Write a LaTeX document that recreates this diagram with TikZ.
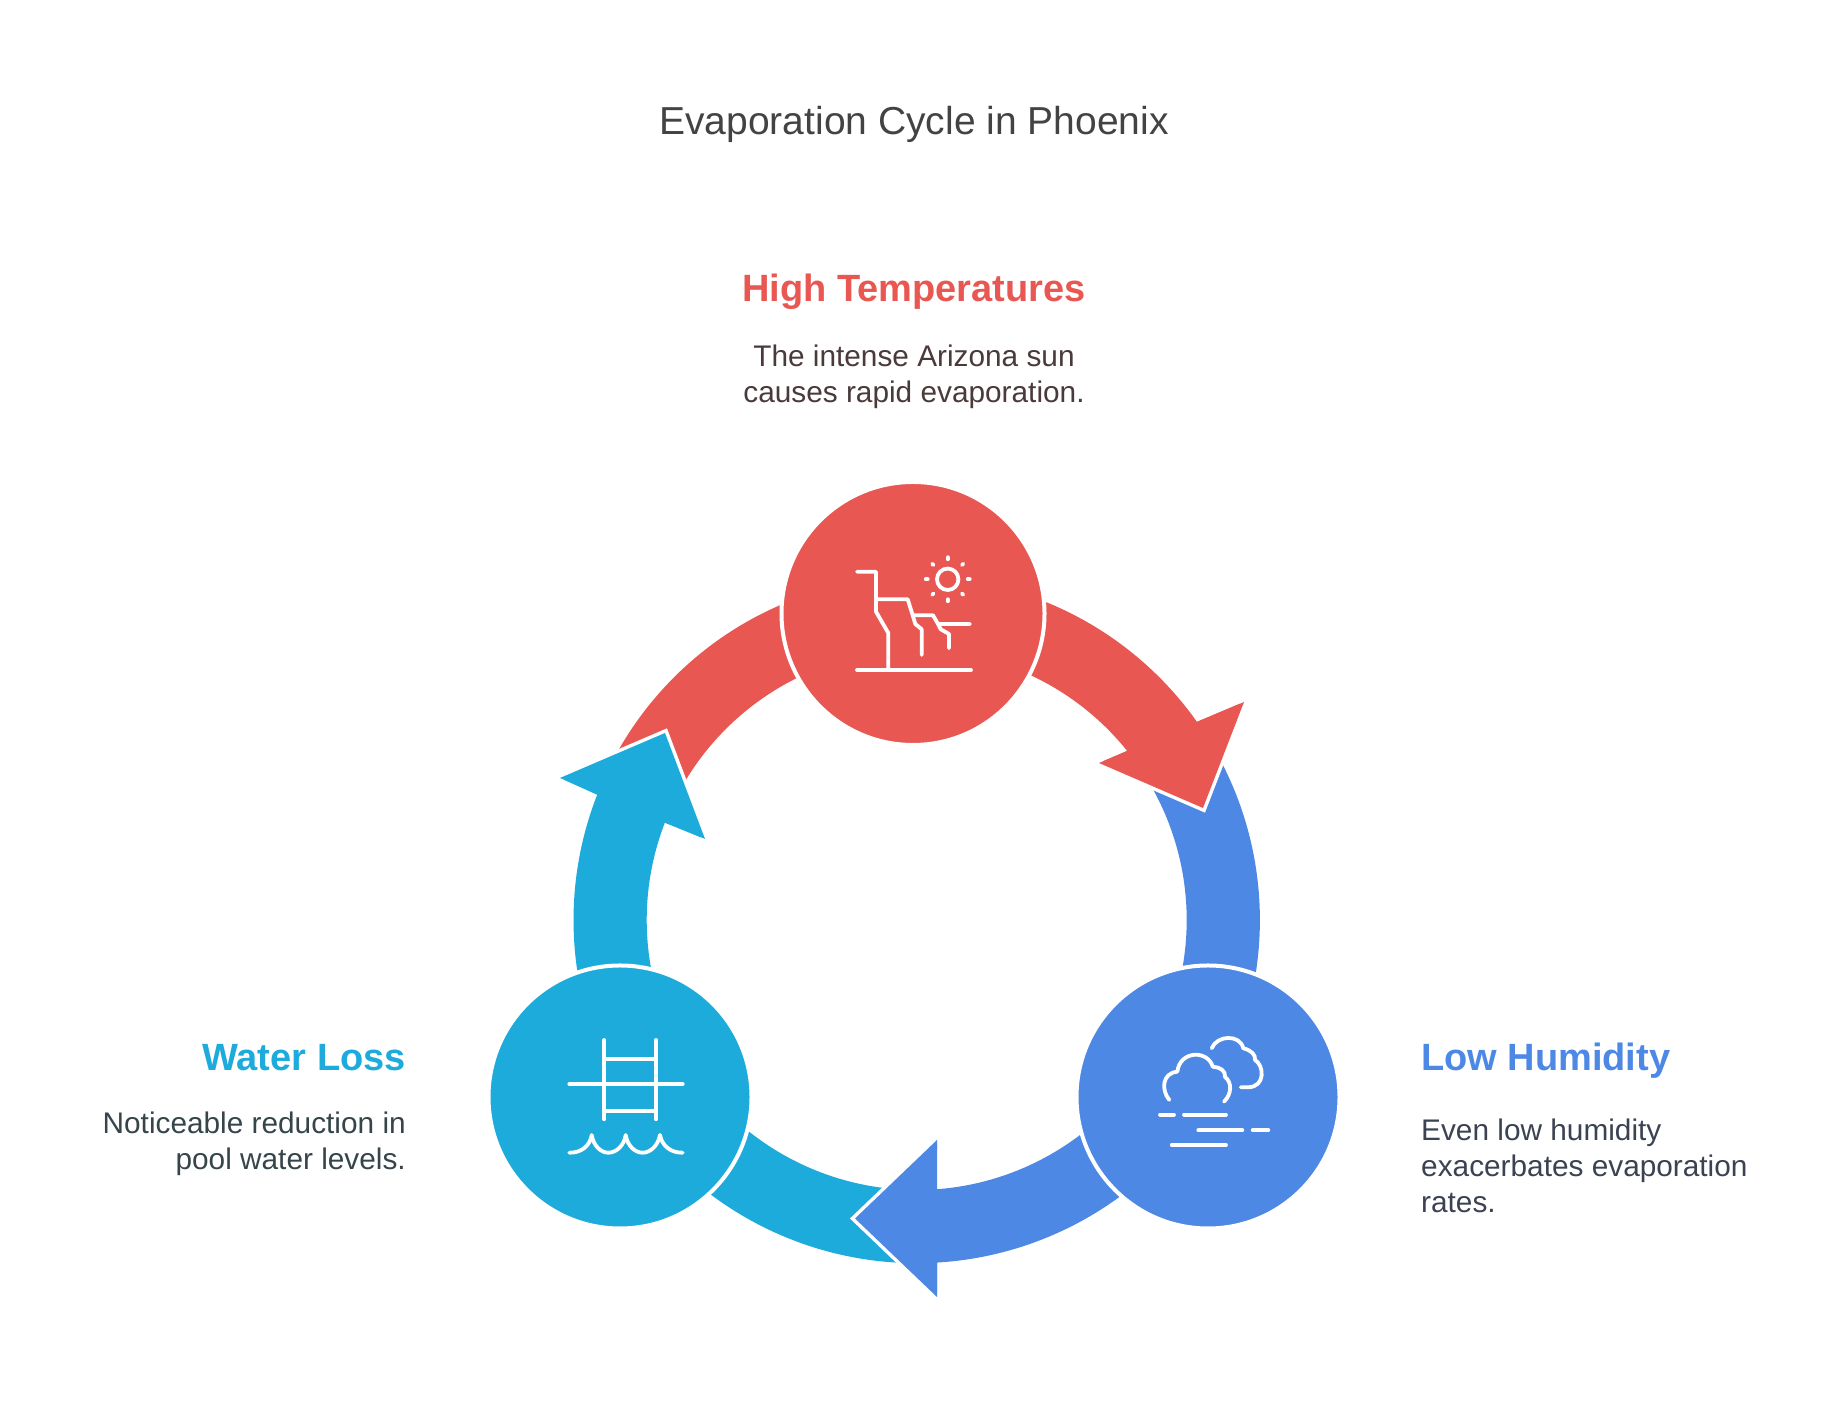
\documentclass[tikz,border=0pt]{standalone}
\usepackage{fontspec}
\setmainfont{Liberation Sans}
\definecolor{redc}{HTML}{E85752}
\definecolor{bluec}{HTML}{4E88E5}
\definecolor{cyanc}{HTML}{1DABDC}
\definecolor{titlec}{HTML}{434343}
\definecolor{bodyr}{HTML}{4A3A3A}
\definecolor{bodyd}{HTML}{36454A}
\definecolor{bodyb}{HTML}{3B4252}
\tikzset{
  bubble/.style={circle,draw=white,line width=4pt,inner sep=0pt,minimum size=263pt},
  icon/.style={draw=white,line width=3.8pt,line cap=round,line join=round},
  headedge/.style={draw=white,line width=7pt,line join=miter},
  titletext/.style={text=titlec,font=\fontsize{39}{46}\selectfont,anchor=base,inner sep=0pt},
  headtext/.style={font=\bfseries\fontsize{38}{44}\selectfont,anchor=base,inner sep=0pt},
  bodytext/.style={font=\fontsize{29.8}{36}\selectfont,inner sep=0pt,anchor=base}
}
\newcommand{\ringarc}[3]{% colour, from angle, to angle
  \fill[#1] ([shift={(#2:343.2)}]C) arc[start angle=#2,end angle=#3,radius=343.2]
    -- ([shift={(#3:270)}]C) arc[start angle=#3,end angle=#2,radius=270] -- cycle;}
\begin{document}
\begin{tikzpicture}[x=1pt,y=1pt]
\useasboundingbox (0,0) rectangle (1828,1420);
\coordinate (C) at (916.7,500);
% stubs under the previous arrowhead
\ringarc{bluec}{32}{-25}
\ringarc{cyanc}{268}{228}
\ringarc{redc}{153}{110}
% red arrow
\fill[redc] ([shift={(75:343.2)}]C) arc[start angle=75,end angle=35.24,radius=343.2]
  -- (1244,718) -- (1203,612) -- (1099,657) -- ([shift={(38.8:270)}]C)
  arc[start angle=38.8,end angle=75,radius=270] -- cycle;
\draw[headedge] (1244,718) -- (1203,612) -- (1099,657);
\fill[redc] (1244,718) -- (1203,612) -- (1099,657) -- cycle;
% blue arrow
\fill[bluec] ([shift={(-45:343.2)}]C) arc[start angle=-45,end angle=-86.6,radius=343.2]
  -- (937,123) -- (855,201.5) -- (937,280) -- ([shift={(-85.7:270)}]C)
  arc[start angle=-85.7,end angle=-45,radius=270] -- cycle;
\draw[headedge] (937,123) -- (855,201.5) -- (937,280);
\fill[bluec] (937,123) -- (855,201.5) -- (937,280) -- cycle;
% cyan arrow
\fill[cyanc] ([shift={(200:343.2)}]C) arc[start angle=200,end angle=158.6,radius=343.2]
  -- (560,642) -- (665,687) -- (705,581) -- ([shift={(158.9:270)}]C)
  arc[start angle=158.9,end angle=200,radius=270] -- cycle;
\draw[headedge] (560,642) -- (665,687) -- (705,581);
\fill[cyanc] (560,642) -- (665,687) -- (705,581) -- cycle;
% circles
\node[bubble,fill=redc] (top) at (913,806.5) {};
\node[bubble,fill=bluec] (right) at (1208,323) {};
\node[bubble,fill=cyanc] (left) at (620,323) {};
% sun & cliff icon
\begin{scope}[shift={(770,950)},yscale=-1]
\draw[icon] (87,101.7) -- (106,101.7) -- (106,129.3) -- (137.7,129.3) -- (142.7,145.3) -- (163,145.3) -- (168,154) -- (200,154);
\draw[icon] (106,129.3) -- (106,141.7) -- (118.3,163) -- (118.3,200);
\draw[icon] (142.7,145.3) -- (145.3,154) -- (151.7,159.3) -- (151.7,185);
\draw[icon] (168,154) -- (170.7,159.3) -- (179,164) -- (179,178.3);
\draw[icon] (87,200) -- (201,200);
\draw[icon] (177.7,109.3) circle[radius=10.7];
\foreach \a in {0,45,...,315}{\draw[icon] ([shift={(\a:20)}]177.7,109.3) -- ([shift={(\a:22)}]177.7,109.3);}
\end{scope}
% cloud icon
\begin{scope}[shift={(1070,460)},yscale=-1]
\draw[icon] (99.3,140) .. controls (91,130) and (92,113) .. (107.3,111.7)
  .. controls (110,90) and (138,90) .. (142.7,106.7)
  .. controls (150,107) and (156,111) .. (155,117)
  .. controls (162,122) and (162,134) .. (154,141.7);
\draw[icon] (141.7,88.3) .. controls (147,75) and (170,74) .. (173.3,88.3)
  .. controls (181,90) and (186,95) .. (185,100)
  .. controls (194,105) and (196,127) .. (178,127.3) -- (170.7,127.3);
\draw[icon] (90,154.7) -- (104,154.7);
\draw[icon] (114,154.7) -- (156,154.7);
\draw[icon] (128.3,170.3) -- (172.3,170.3);
\draw[icon] (182.7,170.3) -- (198.3,170.3);
\draw[icon] (101.7,185) -- (156,185);
\end{scope}
% pool icon
\begin{scope}[shift={(480,460)},yscale=-1]
\draw[icon] (124.3,80) -- (124.3,159.3);
\draw[icon] (176,80) -- (176,159.3);
\draw[icon] (124.3,99) -- (176,99);
\draw[icon] (124.3,151) -- (176,151);
\draw[icon] (89.3,124) -- (202.7,124);
\draw[icon] (89.3,192.7) .. controls (101,193) and (110,186) .. (111.7,175)
  .. controls (113.5,186) and (121,192.7) .. (128.3,192.7) .. controls (136,192.7) and (144,186) .. (145.7,175)
  .. controls (147.5,186) and (155,192.7) .. (162.7,192.7) .. controls (170,192.7) and (178,186) .. (180,175)
  .. controls (182,186) and (191,193) .. (202.7,192.7);
\end{scope}
% text
\node[titletext] (title) at (914,1285) {Evaporation Cycle in Phoenix};
\node[headtext,text=redc] (h1) at (914,1118) {High Temperatures};
\node[bodytext,text=bodyr,align=center] (b1) at (914,1017.5) {The intense Arizona sun\\causes rapid evaporation.};
\node[headtext,text=cyanc,anchor=base east] (h3) at (406,349.3) {Water Loss};
\node[bodytext,text=bodyd,align=right,anchor=base east] (b3) at (406,250) {Noticeable reduction in\\pool water levels.};
\node[headtext,text=bluec,anchor=base west] (h2) at (1421,349.3) {Low Humidity};
\node[bodytext,text=bodyb,align=left,anchor=base west] (b2) at (1421,207.5) {Even low humidity\\exacerbates evaporation\\rates.};
\end{tikzpicture}
\end{document}
